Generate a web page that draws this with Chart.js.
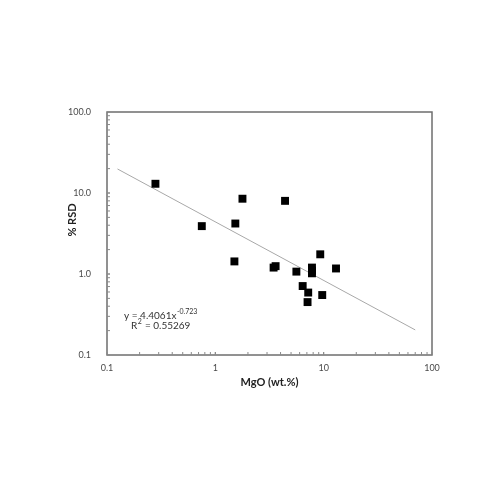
<!DOCTYPE html>
<html>
<head>
<meta charset="utf-8">
<script src="https://cdn.jsdelivr.net/npm/chart.js@4.4.0/dist/chart.umd.min.js"></script>
<style>
html,body{margin:0;padding:0;background:#fff;}
#wrap{width:500px;height:500px;}
</style>
</head>
<body>
<div id="wrap"><canvas id="c" width="500" height="500"></canvas></div>
<script>
// Data (MgO wt.% vs % RSD)
const mgo = [0.28, 0.75, 1.53, 1.78, 1.5, 4.4, 9.3, 3.45, 3.6, 5.6, 7.8, 7.8, 7.8, 13.0, 6.4, 7.2, 7.1, 9.7];
const rsd = [13.0, 3.9, 4.2, 8.5, 1.43, 8.0, 1.75, 1.2, 1.25, 1.07, 1.2, 1.1, 1.02, 1.17, 0.71, 0.59, 0.45, 0.55];
// Power-law trendline endpoints as drawn
const trendX = [0.125, 70];
const trendY = [19.8, 0.204];
const xTickValues = [0.1, 1, 10, 100];
const xTickLabels = ['0.1', '1', '10', '100'];
const yTickValues = [0.1, 1, 10, 100];
const yTickLabels = ['0.1', '1.0', '10.0', '100.0'];
const xTitle = 'MgO (wt.%)';
const yTitle = '% RSD';
const eqMain = 'y = 4.4061x';
const eqExp = '-0.723';
const r2Value = ' = 0.55269';

const FONT = 'Lato, "Open Sans", sans-serif';
const TXT = '#4a4a4a';
const AXIS = '#6e6e6e';

const frame = {
  id: 'frame',
  afterDatasetsDraw(chart) {
    const {ctx, chartArea: a, scales} = chart;
    ctx.save();
    ctx.strokeStyle = AXIS;
    ctx.lineWidth = 1.5;
    ctx.strokeRect(a.left, a.top, a.right - a.left, a.bottom - a.top);
    // inward tick marks (major + minor)
    ctx.lineWidth = 1;
    ctx.strokeStyle = '#8a8a8a';
    for (let d = 0; d < 3; d++) {
      const base = xTickValues[d];
      for (let k = 1; k <= 10; k++) {
        const v = base * k;
        const px = scales.x.getPixelForValue(v);
        ctx.beginPath(); ctx.moveTo(px, a.bottom); ctx.lineTo(px, a.bottom - 3); ctx.stroke();
        const py = scales.y.getPixelForValue(yTickValues[d] * k);
        ctx.beginPath(); ctx.moveTo(a.left, py); ctx.lineTo(a.left + 3, py); ctx.stroke();
      }
    }
    // axis titles
    ctx.fillStyle = '#222';
    ctx.font = 'bold 11px ' + FONT;
    ctx.textAlign = 'center';
    ctx.textBaseline = 'middle';
    ctx.fillText(xTitle, (a.left + a.right) / 2, 382);
    ctx.save();
    ctx.translate(72, 220);
    ctx.rotate(-Math.PI / 2);
    ctx.fillText(yTitle, 0, 0);
    ctx.restore();
    // equation
    ctx.fillStyle = '#333';
    ctx.textAlign = 'left';
    ctx.textBaseline = 'middle';
    ctx.font = '10px ' + FONT;
    let x0 = 124, y0 = 316;
    ctx.fillText(eqMain, x0, y0);
    let w = ctx.measureText(eqMain).width;
    ctx.font = '7px ' + FONT;
    ctx.fillText(eqExp, x0 + w + 0.5, y0 - 4);
    ctx.font = '10px ' + FONT;
    let x1 = 131, y1 = 326;
    ctx.fillText('R', x1, y1);
    let wr = ctx.measureText('R').width;
    ctx.font = '7px ' + FONT;
    ctx.fillText('2', x1 + wr + 0.5, y1 - 4);
    let w2 = ctx.measureText('2').width;
    ctx.font = '10px ' + FONT;
    ctx.fillText(r2Value, x1 + wr + w2 + 1, y1);
    ctx.restore();
  }
};

new Chart(document.getElementById('c'), {
  type: 'scatter',
  data: {
    datasets: [
      {
        type: 'line',
        data: trendX.map((x, i) => ({x: x, y: trendY[i]})),
        borderColor: '#a8a8a8',
        borderWidth: 1,
        pointRadius: 0,
        fill: false,
        order: 2
      },
      {
        data: mgo.map((x, i) => ({x: x, y: rsd[i]})),
        pointStyle: 'rect',
        pointRadius: 5.6,
        pointBackgroundColor: '#000',
        pointBorderWidth: 0,
        borderWidth: 0,
        order: 1
      }
    ]
  },
  plugins: [frame],
  options: {
    responsive: false,
    animation: false,
    events: [],
    layout: {padding: {left: 0, top: 112, right: 68, bottom: 0}},
    plugins: {legend: {display: false}, tooltip: {enabled: false}},
    scales: {
      x: {
        type: 'logarithmic',
        min: 0.1, max: 100,
        afterFit(s) { s.height = 145; },
        afterBuildTicks(s) { s.ticks = xTickValues.map(v => ({value: v})); },
        grid: {display: true, drawOnChartArea: false, drawTicks: false},
        border: {display: false},
        ticks: {
          autoSkip: false, maxRotation: 0, padding: 8,
          color: TXT, font: {family: FONT, size: 9},
          callback: (v) => { const i = xTickValues.indexOf(v); return i >= 0 ? xTickLabels[i] : ''; }
        }
      },
      y: {
        type: 'logarithmic',
        min: 0.1, max: 100,
        afterFit(s) { s.width = 107; },
        afterBuildTicks(s) { s.ticks = yTickValues.map(v => ({value: v})); },
        grid: {display: true, drawOnChartArea: false, drawTicks: false},
        border: {display: false},
        ticks: {
          autoSkip: false, padding: 16,
          color: TXT, font: {family: FONT, size: 9},
          callback: (v) => { const i = yTickValues.indexOf(v); return i >= 0 ? yTickLabels[i] : ''; }
        }
      }
    }
  }
});
</script>
</body>
</html>
